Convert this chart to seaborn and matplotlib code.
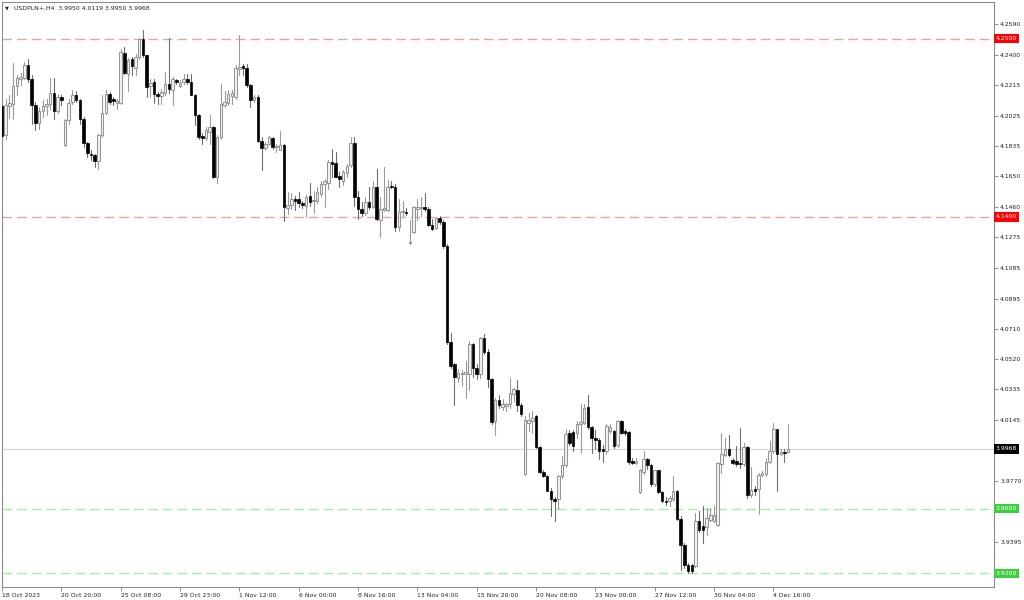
import numpy as np
import pandas as pd
import seaborn as sns
import matplotlib.pyplot as plt
import matplotlib.transforms as mtransforms

# H4 candles (bar 0 = 18 Oct 2023)
opens = [
    4.2084, 4.1907, 4.2084, 4.2098, 4.2208, 4.2249, 4.2257, 4.2340, 4.2253, 4.2092,
    4.1981, 4.2051, 4.2084, 4.2096, 4.2164, 4.2055, 4.2138, 4.1841, 4.1996, 4.2109,
    4.2150, 4.2119, 4.2002, 4.1858, 4.1790, 4.1779, 4.1742, 4.1903, 4.2043, 4.2156,
    4.2125, 4.2105, 4.2105, 4.2414, 4.2284, 4.2377, 4.2319, 4.2387, 4.2496, 4.2397,
    4.2208, 4.2232, 4.2160, 4.2146, 4.2166, 4.2222, 4.2181, 4.2243, 4.2208, 4.2232,
    4.2253, 4.2232, 4.2154, 4.2031, 4.1899, 4.1886, 4.1923, 4.1954, 4.1645, 4.1893,
    4.2092, 4.2105, 4.2146, 4.2140, 4.2315, 4.2331, 4.2319, 4.2212, 4.2119, 4.2140,
    4.1866, 4.1825, 4.1852, 4.1885, 4.1830, 4.1815, 4.1845, 4.1454, 4.1475, 4.1510,
    4.1510, 4.1483, 4.1469, 4.1530, 4.1495, 4.1499, 4.1541, 4.1602, 4.1607, 4.1736,
    4.1730, 4.1654, 4.1619, 4.1668, 4.1722, 4.1854, 4.1520, 4.1448, 4.1421, 4.1489,
    4.1458, 4.1586, 4.1380, 4.1442, 4.1442, 4.1592, 4.1582, 4.1335, 4.1429, 4.1433,
    4.1238, 4.1304, 4.1448, 4.1454, 4.1462, 4.1448, 4.1351, 4.1330, 4.1392, 4.1366,
    4.1221, 4.0630, 4.0490, 4.0404, 4.0428, 4.0432, 4.0432, 4.0614, 4.0465, 4.0432,
    4.0655, 4.0568, 4.0397, 4.0140, 4.0268, 4.0226, 4.0233, 4.0243, 4.0309, 4.0329,
    4.0239, 3.9814, 4.0130, 4.0140, 4.0170, 3.9979, 3.9826, 3.9800, 3.9711, 3.9662,
    3.9662, 3.9800, 3.9868, 4.0068, 4.0074, 4.0068, 4.0119, 4.0129, 4.0226, 4.0103,
    4.0037, 4.0026, 3.9965, 3.9958, 4.0078, 4.0078, 3.9991, 4.0140, 4.0078, 4.0074,
    3.9892, 3.9882, 3.9703, 3.9826, 3.9903, 3.9868, 3.9752, 3.9835, 3.9703, 3.9649,
    3.9645, 3.9662, 3.9711, 3.9538, 3.9373, 3.9254, 3.9250, 3.9244, 3.9526, 3.9491,
    3.9485, 3.9532, 3.9522, 3.9501, 3.9876, 3.9930, 3.9965, 3.9897, 3.9892, 3.9882,
    3.9876, 3.9979, 3.9682, 3.9723, 3.9723, 3.9810, 3.9814, 3.9888, 3.9958, 4.0088,
    3.9938, 3.9950, 3.9950,
]
highs = [
    4.2092, 4.2125, 4.2150, 4.2352, 4.2274, 4.2290, 4.2356, 4.2372, 4.2274, 4.2109,
    4.2078, 4.2119, 4.2125, 4.2257, 4.2257, 4.2160, 4.2150, 4.2002, 4.2125, 4.2181,
    4.2175, 4.2129, 4.2016, 4.1862, 4.1810, 4.1790, 4.1913, 4.2150, 4.2181, 4.2171,
    4.2140, 4.2129, 4.2438, 4.2449, 4.2381, 4.2387, 4.2408, 4.2504, 4.2552, 4.2401,
    4.2253, 4.2253, 4.2171, 4.2191, 4.2294, 4.2504, 4.2263, 4.2253, 4.2243, 4.2284,
    4.2284, 4.2284, 4.2160, 4.2037, 4.1919, 4.1954, 4.2026, 4.1960, 4.1903, 4.2222,
    4.2175, 4.2181, 4.2181, 4.2335, 4.2521, 4.2346, 4.2346, 4.2222, 4.2150, 4.2150,
    4.1893, 4.1860, 4.1899, 4.1893, 4.1850, 4.1932, 4.1850, 4.1551, 4.1545, 4.1530,
    4.1551, 4.1495, 4.1537, 4.1607, 4.1561, 4.1582, 4.1619, 4.1633, 4.1751, 4.1819,
    4.1798, 4.1675, 4.1689, 4.1726, 4.1891, 4.1891, 4.1561, 4.1489, 4.1520, 4.1582,
    4.1623, 4.1695, 4.1520, 4.1705, 4.1627, 4.1619, 4.1602, 4.1510, 4.1495, 4.1454,
    4.1380, 4.1469, 4.1510, 4.1520, 4.1545, 4.1462, 4.1386, 4.1401, 4.1407, 4.1380,
    4.1232, 4.0686, 4.0500, 4.0459, 4.0453, 4.0511, 4.0634, 4.0624, 4.0490, 4.0659,
    4.0680, 4.0583, 4.0403, 4.0284, 4.0300, 4.0274, 4.0253, 4.0408, 4.0346, 4.0391,
    4.0253, 4.0171, 4.0191, 4.0200, 4.0177, 3.9985, 3.9835, 3.9810, 3.9728, 3.9670,
    3.9810, 3.9923, 4.0088, 4.0082, 4.0082, 4.0140, 4.0243, 4.0247, 4.0300, 4.0109,
    4.0082, 4.0037, 3.9995, 4.0119, 4.0119, 4.0082, 4.0144, 4.0144, 4.0088, 4.0078,
    3.9913, 3.9913, 3.9847, 3.9958, 3.9913, 3.9876, 3.9841, 3.9841, 3.9707, 3.9670,
    3.9676, 3.9800, 3.9717, 3.9553, 3.9388, 3.9264, 3.9258, 3.9573, 3.9583, 3.9614,
    3.9604, 3.9604, 3.9614, 3.9888, 4.0068, 4.0037, 4.0057, 3.9913, 3.9985, 4.0098,
    4.0006, 3.9985, 3.9855, 3.9738, 3.9820, 3.9831, 3.9913, 4.0016, 4.0129, 4.0094,
    3.9965, 3.9965, 4.0119,
]
lows = [
    4.1872, 4.1882, 4.2010, 4.2006, 4.2150, 4.2216, 4.2249, 4.2232, 4.1975, 4.1934,
    4.1944, 4.2016, 4.2031, 4.2068, 4.2006, 4.2043, 4.2088, 4.1837, 4.1975, 4.2098,
    4.2109, 4.1975, 4.1831, 4.1769, 4.1748, 4.1707, 4.1697, 4.1893, 4.2037, 4.2098,
    4.2092, 4.2068, 4.2098, 4.2284, 4.2179, 4.2274, 4.2274, 4.2377, 4.2387, 4.2140,
    4.2140, 4.2105, 4.2098, 4.2098, 4.2150, 4.2166, 4.2092, 4.2222, 4.2202, 4.2222,
    4.2222, 4.2150, 4.1965, 4.1882, 4.1851, 4.1872, 4.1851, 4.1639, 4.1610, 4.1882,
    4.2078, 4.2092, 4.2098, 4.2129, 4.2274, 4.2274, 4.2202, 4.2078, 4.2109, 4.1862,
    4.1687, 4.1815, 4.1845, 4.1820, 4.1800, 4.1810, 4.1372, 4.1417, 4.1448, 4.1442,
    4.1458, 4.1454, 4.1401, 4.1469, 4.1427, 4.1483, 4.1530, 4.1458, 4.1572, 4.1644,
    4.1644, 4.1586, 4.1598, 4.1644, 4.1710, 4.1469, 4.1386, 4.1407, 4.1413, 4.1448,
    4.1454, 4.1380, 4.1273, 4.1438, 4.1438, 4.1578, 4.1314, 4.1310, 4.1407, 4.1413,
    4.1232, 4.1298, 4.1380, 4.1407, 4.1438, 4.1345, 4.1318, 4.1324, 4.1359, 4.1211,
    4.0614, 4.0469, 4.0239, 4.0383, 4.0356, 4.0284, 4.0329, 4.0412, 4.0397, 4.0404,
    4.0556, 4.0350, 4.0119, 4.0053, 4.0218, 4.0206, 4.0202, 4.0222, 4.0259, 4.0202,
    4.0171, 3.9810, 4.0078, 4.0068, 3.9975, 3.9820, 3.9794, 3.9707, 3.9553, 3.9522,
    3.9600, 3.9789, 3.9855, 3.9995, 3.9954, 4.0037, 3.9944, 4.0119, 4.0094, 3.9944,
    3.9965, 3.9903, 3.9888, 3.9934, 4.0068, 3.9971, 3.9979, 4.0061, 4.0057, 3.9876,
    3.9872, 3.9876, 3.9697, 3.9814, 3.9847, 3.9738, 3.9738, 3.9697, 3.9641, 3.9625,
    3.9614, 3.9645, 3.9532, 3.9223, 3.9233, 3.9202, 3.9202, 3.9237, 3.9456, 3.9388,
    3.9439, 3.9522, 3.9518, 3.9491, 3.9820, 3.9923, 3.9923, 3.9876, 3.9862, 3.9851,
    3.9862, 3.9666, 3.9670, 3.9682, 3.9567, 3.9800, 3.9800, 3.9882, 3.9944, 3.9707,
    3.9930, 3.9888, 3.9950,
]
closes = [
    4.1899, 4.2092, 4.2105, 4.2208, 4.2257, 4.2263, 4.2340, 4.2253, 4.2092, 4.1981,
    4.2055, 4.2084, 4.2098, 4.2164, 4.2055, 4.2138, 4.2121, 4.1996, 4.2105, 4.2150,
    4.2119, 4.2002, 4.1858, 4.1796, 4.1779, 4.1742, 4.1903, 4.2043, 4.2156, 4.2109,
    4.2113, 4.2113, 4.2418, 4.2290, 4.2366, 4.2331, 4.2387, 4.2500, 4.2397, 4.2202,
    4.2228, 4.2160, 4.2146, 4.2171, 4.2222, 4.2187, 4.2249, 4.2232, 4.2228, 4.2253,
    4.2232, 4.2154, 4.2031, 4.1893, 4.1886, 4.1934, 4.1954, 4.1645, 4.1893, 4.2098,
    4.2109, 4.2160, 4.2166, 4.2319, 4.2325, 4.2319, 4.2212, 4.2119, 4.2140, 4.1866,
    4.1825, 4.1852, 4.1890, 4.1830, 4.1835, 4.1845, 4.1458, 4.1475, 4.1510, 4.1499,
    4.1483, 4.1475, 4.1524, 4.1489, 4.1504, 4.1551, 4.1602, 4.1623, 4.1736, 4.1726,
    4.1648, 4.1633, 4.1675, 4.1716, 4.1854, 4.1520, 4.1448, 4.1421, 4.1489, 4.1458,
    4.1586, 4.1386, 4.1448, 4.1454, 4.1586, 4.1582, 4.1335, 4.1433, 4.1438, 4.1421,
    4.1242, 4.1458, 4.1462, 4.1462, 4.1448, 4.1351, 4.1324, 4.1392, 4.1366, 4.1221,
    4.0630, 4.0480, 4.0412, 4.0439, 4.0439, 4.0445, 4.0614, 4.0465, 4.0432, 4.0655,
    4.0568, 4.0397, 4.0136, 4.0268, 4.0239, 4.0247, 4.0243, 4.0315, 4.0336, 4.0239,
    4.0181, 4.0144, 4.0144, 4.0160, 3.9979, 3.9826, 3.9800, 3.9711, 3.9656, 3.9649,
    3.9800, 3.9868, 4.0061, 4.0006, 3.9985, 4.0123, 4.0135, 4.0222, 4.0103, 4.0037,
    4.0026, 3.9958, 3.9954, 4.0109, 4.0103, 3.9985, 4.0140, 4.0068, 4.0065, 3.9888,
    3.9882, 3.9892, 3.9835, 3.9903, 3.9868, 3.9752, 3.9835, 3.9703, 3.9645, 3.9641,
    3.9666, 3.9711, 3.9538, 3.9373, 3.9254, 3.9213, 3.9213, 3.9526, 3.9470, 3.9470,
    3.9542, 3.9559, 3.9559, 3.9882, 3.9934, 3.9965, 3.9930, 3.9882, 3.9872, 3.9872,
    3.9979, 3.9682, 3.9717, 3.9707, 3.9810, 3.9820, 3.9888, 3.9958, 4.0088, 3.9934,
    3.9950, 3.9944, 3.9968,
]

date_labels = ["18 Oct 2023", "20 Oct 20:00", "25 Oct 08:00", "29 Oct 23:00",
               "1 Nov 12:00", "6 Nov 00:00", "8 Nov 16:00", "13 Nov 04:00",
               "15 Nov 20:00", "20 Nov 08:00", "23 Nov 00:00", "27 Nov 12:00",
               "30 Nov 04:00", "4 Dec 16:00"]
price_ticks = [4.2590, 4.2400, 4.2215, 4.2025, 4.1835, 4.1650, 4.1460, 4.1275,
               4.1085, 4.0895, 4.0710, 4.0520, 4.0335, 4.0145, 3.9770, 3.9395]
red_levels = [4.2500, 4.1400]
green_levels = [3.9600, 3.9200]
last_price = 3.9968
title = "USDPLN+,H4  3.9950 4.0119 3.9950 3.9968"

bars = pd.DataFrame({"open": opens, "high": highs, "low": lows, "close": closes})
bars["bar"] = np.arange(len(bars))
bars["bull"] = bars["close"] >= bars["open"]

sns.set_theme(style="white")
plt.rcParams["font.family"] = ["DejaVu Sans"]
fs = 4.4

fig = plt.figure(figsize=(10.24, 6.0), dpi=100)
ax = fig.add_axes([2 / 1024, 13 / 600, 992 / 1024, 585 / 600])

# support / resistance levels and bid line
for lv in red_levels:
    ax.axhline(lv, color="#f4a0a0", lw=1.0, dashes=(7, 3.5), zorder=1)
for lv in green_levels:
    ax.axhline(lv, color="#a8eaa8", lw=1.0, dashes=(7, 3.5), zorder=1)
ax.axhline(last_price, color="#d4d4d4", lw=0.8, zorder=1)

# wicks
wicks = bars.melt(id_vars=["bar", "bull"], value_vars=["low", "high"], value_name="price")
sns.lineplot(data=wicks, x="bar", y="price", units="bar", estimator=None, hue="bull",
             palette={True: "#9a9a9a", False: "#6e6e6e"}, lw=0.8, legend=False, ax=ax,
             zorder=2)

# bodies
body_h = np.maximum((bars["close"] - bars["open"]).abs(), 0.00008)
body_b = bars[["open", "close"]].min(axis=1)
up = bars["bull"]
ax.bar(bars["bar"][up], body_h[up], bottom=body_b[up], width=0.68,
       color="#f2f2f2", edgecolor="#969696", linewidth=0.75, zorder=3)
ax.bar(bars["bar"][~up], body_h[~up], bottom=body_b[~up], width=0.68,
       color="black", edgecolor="black", linewidth=0.5, zorder=3)

ax.set_xlim(0.1, 267.5)
ax.set_ylim(3.9116, 4.2726)
ax.set_xlabel("")
ax.set_ylabel("")

ax.yaxis.tick_right()
ax.set_yticks(price_ticks)
ax.set_yticklabels([f"{t:.4f}" for t in price_ticks])
ax.set_xticks(np.arange(len(date_labels)) * 16)
ax.set_xticklabels(date_labels, ha="left")
ax.tick_params(axis="both", length=3, width=0.6, color="#808080", labelsize=fs,
               labelcolor="#222222", pad=1.5)
ax.tick_params(axis="y", right=True, left=False)
ax.tick_params(axis="x", bottom=True)
for sp in ax.spines.values():
    sp.set_color("#8c8c8c")
    sp.set_linewidth(0.8)

# price boxes on the right
tr = mtransforms.blended_transform_factory(ax.transAxes, ax.transData)
boxes = [(lv, "#ff0000") for lv in red_levels] + [(lv, "#3ccf3c") for lv in green_levels]
boxes.append((last_price, "#000000"))
for lv, c in boxes:
    ax.text(1.0018, lv, f"{lv:.4f}", transform=tr, ha="left", va="center", fontsize=fs,
            color="white", clip_on=False, zorder=5,
            bbox=dict(boxstyle="square,pad=0.35", fc=c, ec="none"))

ax.text(0.003, 0.994, "\u25bc", transform=ax.transAxes, ha="left", va="top",
        fontsize=3.6, color="#222222")
ax.text(0.012, 0.994, title, transform=ax.transAxes, ha="left", va="top",
        fontsize=fs, color="#222222")

fig.savefig("out.png", dpi=100, facecolor="white")
